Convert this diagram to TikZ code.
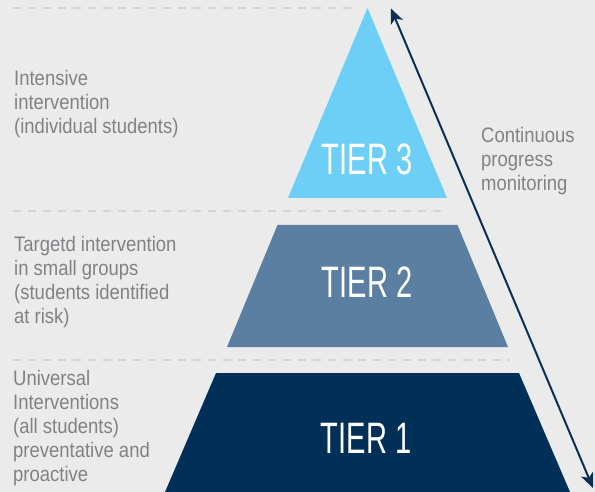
\documentclass[tikz,border=0pt]{standalone}
\usepackage{fontspec}
\setmainfont{Liberation Sans}
\newfontfamily\labelfont{Liberation Sans}[FakeStretch=0.88]
\newfontfamily\tierfont{Liberation Sans}[FakeStretch=0.66]
\usetikzlibrary{arrows.meta}
\definecolor{bg}{HTML}{EBEBEB}
\definecolor{dashc}{HTML}{D3D4D6}
\definecolor{txt}{HTML}{808285}
\definecolor{tthree}{HTML}{6DCFF6}
\definecolor{ttwo}{HTML}{5A7FA0}
\definecolor{tone}{HTML}{003057}
\definecolor{navy}{HTML}{0B2F55}
\tikzset{
  sep/.style={dashc, line width=2.6pt, dash pattern=on 8pt off 7pt},
  desc/.style={anchor=west, align=left, text=txt, inner sep=0pt,
    font=\labelfont\fontsize{21}{24}\selectfont},
  tierlabel/.style={text=white, inner sep=0pt, font=\tierfont\fontsize{44}{48}\selectfont},
}
\begin{document}
\begin{tikzpicture}[x=1pt,y=-1pt]
\fill[bg] (0,0) rectangle (595,492);
\useasboundingbox (0,0) rectangle (595,492);
% separators
\draw[sep] (13,8) -- (355,8);
\draw[sep] (13,211) -- (442,211);
\draw[sep] (13,360) -- (510,360);
% tiers
\fill[tthree] (367.5,8) -- (447,198) -- (288,198) -- cycle;
\fill[ttwo] (277.5,225) -- (457.5,225) -- (508,347) -- (227,347) -- cycle;
\fill[tone] (216,373) -- (519,373) -- (570,492) -- (165,492) -- cycle;
\node[tierlabel] (t3) at (367,159) {TIER 3};
\node[tierlabel] (t2) at (367,282) {TIER 2};
\node[tierlabel] (t1) at (366,438) {TIER 1};
% descriptions
\node[desc] (d3) at (14,104) {Intensive\\intervention\\(individual students)};
\node[desc] (d2) at (14,282) {Targetd intervention\\in small groups\\(students identified\\at risk)};
\node[desc] (d1) at (13,428) {Universal\\Interventions\\(all students)\\preventative and\\proactive};
\node[desc] (mon) at (481,161) {Continuous\\progress\\monitoring};
% arrow
\coordinate (atop) at (391,8.5);
\coordinate (abot) at (593,488);
\draw[navy, line width=2pt, {Stealth[length=15pt,width=13pt,inset=4pt]}-{Stealth[length=15pt,width=13pt,inset=4pt]}] (atop) -- (abot);
\end{tikzpicture}
\end{document}
